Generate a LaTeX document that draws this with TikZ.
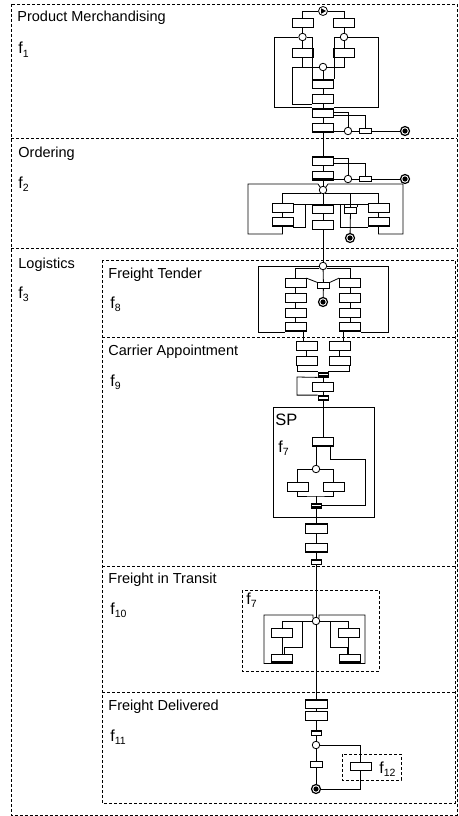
\documentclass[tikz,border=0pt]{standalone}
\usepackage{fontspec}
\setmainfont{Liberation Sans}
\usetikzlibrary{calc}
\newcommand\fsb[1]{\raisebox{-3pt}{\fontsize{10.5}{12}\selectfont #1}}
\newcommand\tbar[1]{\fill (#1.north west) rectangle ([yshift=-2pt]#1.north east);}
\newcommand\bbar[1]{\fill (#1.south west) rectangle ([yshift=2pt]#1.south east);}
\newcommand\evdot[1]{\fill (#1.center) circle (2.6pt);}
\begin{document}
\begin{tikzpicture}[x=1pt,y=-1pt,line width=0.8pt,
  dsh/.style={draw, line width=0.7pt, dash pattern=on 3pt off 2pt},
  lab/.style={anchor=base west, inner sep=0pt, font=\fontsize{14.5}{17}\selectfont},
  flab/.style={anchor=base west, inner sep=0pt, font=\fontsize{16}{18}\selectfont},
  task/.style={draw, rectangle, fill=white, minimum width=21pt, minimum height=9pt, inner sep=0pt, line width=0.8pt},
  stask/.style={task, minimum width=12pt, minimum height=5.5pt},
  bar/.style={task, minimum width=10pt, minimum height=5pt},
  gw/.style={circle, draw, fill=white, minimum size=7.5pt, inner sep=0pt},
  startev/.style={circle, draw, fill=white, minimum size=9pt, inner sep=0pt},
  endev/.style={circle, draw, fill=white, line width=1.2pt, minimum size=9pt, inner sep=0pt}
]
\useasboundingbox (0,0) rectangle (458,816);

% ---------- frames ----------
\draw[dsh] (11,4) rectangle (457,815);
\draw[dsh] (11,138) -- (457,138);
\draw[dsh] (11,248) -- (457,248);
\draw[dsh] (102,260) rectangle (455,803);
\draw[dsh] (102,337) -- (455,337);
\draw[dsh] (102,566) -- (455,566);
\draw[dsh] (102,692) -- (455,692);

% ---------- labels ----------
\node[lab] (lpm) at (17,22) {Product Merchandising};
\node[flab] (lf1) at (18,54) {f\fsb{1}};
\node[lab] (lor) at (18,157) {Ordering};
\node[flab] (lf2) at (18,188) {f\fsb{2}};
\node[lab] (llo) at (18,268) {Logistics};
\node[flab] (lf3) at (18,298) {f\fsb{3}};
\node[lab] (lft) at (108,278) {Freight Tender};
\node[flab] (lf8) at (110,308) {f\fsb{8}};
\node[lab] (lca) at (108,355) {Carrier Appointment};
\node[flab] (lf9) at (110,386) {f\fsb{9}};
\node[lab] (lfit) at (108,583) {Freight in Transit};
\node[flab] (lf10) at (110,614) {f\fsb{10}};
\node[lab] (lfd) at (108,710) {Freight Delivered};
\node[flab] (lf11) at (110,741) {f\fsb{11}};

% ---------- Product Merchandising ----------
\node[startev] (s1) at (323,11) {};
\fill ($(s1.center)+(-1.8pt,2.7pt)$) -- ++(0,-5.4pt) -- ++(4.8pt,2.7pt) -- cycle;
\node[task] (a1) at (302.5,22.5) {};
\node[task] (a2) at (344,22.5) {};
\node[gw] (g1) at (302.5,37) {};
\node[gw] (g2) at (344,37) {};
\node[task] (a3) at (302.5,52.5) {};
\node[task] (a4) at (344,52.5) {};
\node[gw] (g3) at (323,67) {};
\node[task] (a5) at (323,84) {};
\node[task] (a6) at (323,99) {};
\node[task] (a7) at (323,112.5) {};
\node[task] (a8) at (323,128) {};
\node[gw] (g4) at (348,131) {};
\node[stask] (a9) at (365,131) {};
\node[endev] (e1) at (405,131) {};
\tbar{a5}\tbar{a7}\bbar{a8}\evdot{e1}

\draw (s1) -| (a1);
\draw (s1) -| (a2);
\draw (a1) -- (g1);
\draw (a2) -- (g2);
\draw (g1) -- (a3);
\draw (g2) -- (a4);
\draw (g1) -- (274,37) |- (a7.north west);
\draw (g2) -- (378,37) |- (a7.north east);
\draw (g1) -| (a5.north west);
\draw (g2) -| (a5.north east);
\draw (a3) |- (g3);
\draw (a4) |- (g3);
\draw (g3) -- (292,67) |- (a6.south west);
\draw (g3) -- (a5);
\draw (a5) -- (a6);
\draw (a6) -- (a7);
\draw (a7) -- (a8);
\draw (a7.east) -| (g4);
\draw ([yshift=-3pt]a7.east) -| (a9);
\draw ([yshift=-3pt]a8.east) -- (g4);
\draw (g4) -- (a9);
\draw (a9) -- (e1);

% ---------- Ordering ----------
\node[task] (b1) at (323,161) {};
\node[task] (b2) at (323,175.5) {};
\node[gw] (g5) at (348,179) {};
\node[stask] (b3) at (365,179) {};
\node[endev] (e2) at (405,179) {};
\node[gw] (g6) at (323,190) {};
\node[task] (b5) at (282.5,207.5) {};
\node[task] (b6) at (282.5,222) {};
\node[task] (b10) at (323,209) {};
\node[task] (b11) at (323,224.5) {};
\node[stask] (b12) at (350.5,210.5) {};
\node[endev] (e3) at (350,238) {};
\node[task] (b8) at (378.5,207.5) {};
\node[task] (b9) at (378.5,222) {};
\coordinate (jl) at (305,204.5);
\coordinate (jr) at (340,204.5);
\tbar{b1}\bbar{b2}\bbar{b6}\tbar{b10}\bbar{b9}\evdot{e2}\evdot{e3}

\draw (a8) -- (b1);
\draw ([yshift=3pt]b1.east) -| (g5);
\draw ([yshift=-2pt]b1.east) -| (b3);
\draw ([yshift=-3.5pt]b2.east) -- (g5);
\draw (g5) -- (b3);
\draw (b3) -- (e2);
\draw (b1) -- (b2);
\draw (b2) -- (g6);
\draw (g6.north west) -- (318,184) -- (248,184) -- (248,234) -| (b6);
\draw (g6.north east) -- (328,184) -- (403,184) -- (403,234) -| (b9);
\draw (g6.240) -| (b5);
\draw (g6.300) -| (b8);
\draw (b12) -- (b12.north |- g6.300);
\draw (g6) -- (b10);
\draw (b10) -- (b11);
\draw (b12) -- (e3);
\draw (b5) -- (b6);
\draw (b8) -- (b9);
\draw (b10.north west) -- (b10.north west -| b5.east);
\draw (b10.north east) -- (b10.north east -| b8.west);
\draw (jl) |- (b6.south east);
\draw (jr) |- (b9.south west);
\draw (b12.north west) -- (b12.north west |- jr);
\draw (b12.north east) -- (b12.north east |- jr);

% ---------- Freight Tender ----------
\node[gw] (g7) at (323,266) {};
\node[task] (c1) at (295.5,283) {};
\node[task] (c2) at (295.5,297.5) {};
\node[task] (c3) at (295.5,312.5) {};
\node[task] (c4) at (295.5,327) {};
\node[task] (d1) at (350,283) {};
\node[task] (d2) at (350,297.5) {};
\node[task] (d3) at (350,312.5) {};
\node[task] (d4) at (350,327) {};
\node[stask] (c5) at (323.5,285.5) {};
\node[endev] (e4) at (323,302) {};
\bbar{c4}\bbar{d4}\evdot{e4}

\draw (b11) -- (g7);
\draw (g7) -- (258,266) |- (c4.south west);
\draw (g7) -- (388,266) |- (d4.south east);
\draw (g7.210) -| (c1);
\draw (g7.330) -| (d1);
\draw (g7) -- (c5);
\draw (c5) -- (e4);
\draw (c1.north east) -- (c5.north west);
\draw (c5.north east) -- (d1.north west);
\draw (c1) -- (c2) -- (c3) -- (c4);
\draw (d1) -- (d2) -- (d3) -- (d4);

% ---------- Carrier Appointment ----------
\node[task] (f1) at (306.5,346) {};
\node[task] (f2) at (306.5,360.5) {};
\node[task] (h1) at (339.5,346) {};
\node[task] (h2) at (339.5,360.5) {};
\node[bar] (k1) at (323,374.5) {};
\node[task] (m1) at (323,387) {};
\node[bar] (k2) at (323,398) {};
\tbar{k1}\bbar{k1}\tbar{k2}\bbar{k2}

\draw ([xshift=7.5pt]c4.south) -- ([xshift=-3.5pt]f1.north);
\draw ([xshift=-7pt]d4.south) -- ([xshift=3.5pt]h1.north);
\draw (f1) -- (f2);
\draw (h1) -- (h2);
\draw ([xshift=-9.5pt]f2.south) |- (k1.north west);
\draw ([xshift=10pt]h2.south) |- (k1.north east);
\draw (k1.south west) -- (297,377) |- (k2.north west);
\draw (k1) -- (m1) -- (k2);

% ---------- SP ----------
\draw[line width=0.8pt] (273,407) rectangle (374,517);
\node[anchor=base west, inner sep=0pt, font=\fontsize{16.5}{18}\selectfont] (lsp) at (275,425) {SP};
\node[flab] (lf7a) at (278,452) {f\fsb{7}};
\node[task] (n1) at (323,442) {};
\node[gw] (g8) at (316,469) {};
\node[task] (p1) at (297.5,487) {};
\node[task] (p2) at (333.5,487) {};
\node[bar] (k3) at (316,505.5) {};
\coordinate (k3top) at (316,496);
\bbar{n1}\tbar{k3}\bbar{k3}

\draw (k2) -- (n1);
\draw (g8.north |- n1.south) -- (g8);
\draw ([xshift=7pt]n1.south) |- (365,459) |- (k3.east);
\draw (g8) -| (p1);
\draw (g8) -| (p2);
\draw (p1) |- (k3top) -| (p2);
\draw (k3top) -- (k3);

\node[task,minimum width=22pt,minimum height=10pt] (q1) at (316,528) {};
\node[task,minimum width=22pt] (q2) at (316,548) {};
\node[bar] (k4) at (316,561.5) {};
\tbar{q1}\bbar{q2}\tbar{k4}
\draw (k3) -- (q1) -- (q2) -- (k4);

% ---------- Freight in Transit ----------
\draw[dsh] (242,590) rectangle (379,671);
\node[flab] (lf7b) at (246,604) {f\fsb{7}};
\node[gw] (g9) at (316,621) {};
\node[task] (r1) at (282,632.5) {};
\node[task] (r3) at (282,658.5) {};
\node[task] (s1r) at (348.5,632.5) {};
\node[task] (s3) at (349.5,658.5) {};
\bbar{r3}\bbar{s3}

\draw (k4) -- (g9);
\draw (g9.north west) -- (313,615) -- (264,615) |- (r3.south west);
\draw (g9.north east) -- (319,615) -- (365,615) |- (s3.south east);
\draw (g9) -| (r1);
\draw (g9) -| (s1r);
\draw (r1) -- (r3);
\draw (s1r) -- (s1r |- s3.north);
\draw (302,621) -- (302,647) -| ([xshift=2pt]r3.north);
\draw (330,621) -- (330,647) -| ([xshift=-2.5pt]s3.north);

% ---------- Freight Delivered ----------
\node[task,minimum width=22pt] (t1) at (316,703.5) {};
\node[task,minimum width=22pt] (t2) at (316,716) {};
\node[bar] (k5) at (316,732.5) {};
\node[gw] (g10) at (316,745) {};
\node[stask] (t3) at (316,764.5) {};
\node[endev] (e5) at (316,789) {};
\draw[dsh] (342,754) rectangle (401,780);
\node[task,minimum height=8pt] (t4) at (360.5,766) {};
\node[flab] (lf12) at (379,773) {f\fsb{12}};
\tbar{t1}\tbar{k5}\evdot{e5}

\draw (g9) -- (t1);
\draw (t1) -- (t2) -- (k5) -- (g10) -- (t3) -- (e5);
\draw (g10) -| (t4);
\draw (t4) |- (e5);
\end{tikzpicture}
\end{document}
